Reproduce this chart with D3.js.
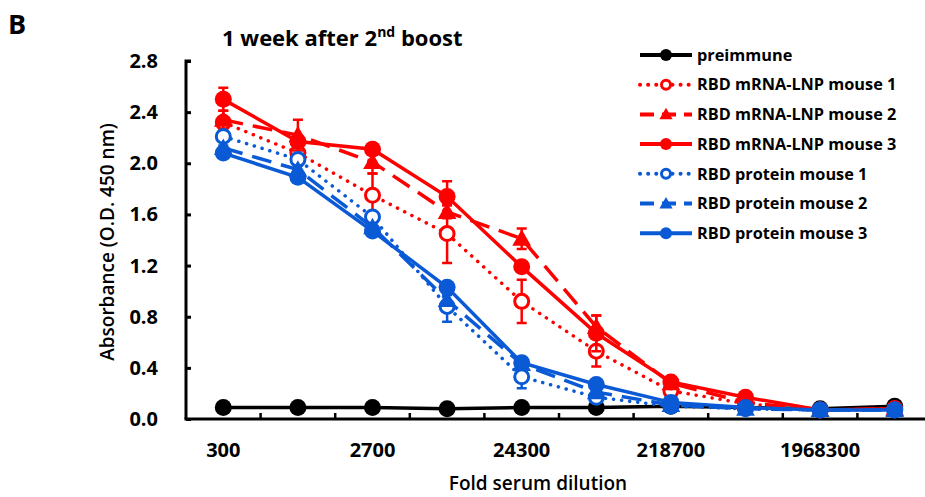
<!DOCTYPE html>
<html>
<head>
<meta charset="utf-8">
<script src="https://cdn.jsdelivr.net/npm/d3@7"></script>
<style>
  body { margin: 0; background: #fff; }
  svg text { font-family: "Open Sans", "Noto Sans", sans-serif; font-weight: 700; fill: #000; }
</style>
</head>
<body>
<script>
var dilutions = ['300', '900', '2700', '8100', '24300', '72900', '218700', '656100', '1968300', '5904900'];
var shownLabels = ['300', '2700', '24300', '218700', '1968300'];
var yTicks = [0, 0.4, 0.8, 1.2, 1.6, 2.0, 2.4, 2.8];

var preimmune = [0.09, 0.09, 0.09, 0.08, 0.09, 0.09, 0.10, 0.09, 0.08, 0.10];
var mrna1 = [2.32, 2.08, 1.75, 1.45, 0.92, 0.53, 0.22, 0.12, 0.07, 0.08];
var mrna1Err = [0.03, 0.04, 0.17, 0.23, 0.17, 0.12, 0.03, 0.02, 0.01, 0.01];
var mrna2 = [2.34, 2.22, 2.01, 1.62, 1.41, 0.72, 0.28, 0.13, 0.07, 0.08];
var mrna2Err = [0.07, 0.12, 0.09, 0.05, 0.08, 0.09, 0.04, 0.02, 0.01, 0.01];
var mrna3 = [2.50, 2.17, 2.11, 1.74, 1.19, 0.67, 0.29, 0.17, 0.07, 0.08];
var mrna3Err = [0.09, 0.02, 0.02, 0.12, 0.02, 0.14, 0.03, 0.02, 0.01, 0.01];
var prot1 = [2.21, 2.03, 1.58, 0.88, 0.33, 0.17, 0.10, 0.08, 0.07, 0.07];
var prot1Err = [0.04, 0.04, 0.03, 0.12, 0.09, 0.02, 0.01, 0.01, 0.01, 0.01];
var prot2 = [2.12, 1.95, 1.50, 0.93, 0.43, 0.21, 0.11, 0.08, 0.07, 0.07];
var prot2Err = [0.02, 0.03, 0.03, 0.04, 0.03, 0.02, 0.01, 0.01, 0.01, 0.01];
var prot3 = [2.08, 1.89, 1.47, 1.03, 0.44, 0.27, 0.13, 0.09, 0.07, 0.07];
var prot3Err = [0.02, 0.02, 0.02, 0.03, 0.02, 0.02, 0.01, 0.01, 0.01, 0.01];

var red = '#ff0000', blue = '#0a5ad6';

// style per series: dash pattern + marker kind
var series = [
  { name: 'preimmune', values: preimmune, err: null, color: '#000', dash: null, marker: 'dot' },
  { name: 'RBD mRNA-LNP mouse 1', values: mrna1, err: mrna1Err, color: red, dash: '0.1 8', marker: 'ring' },
  { name: 'RBD mRNA-LNP mouse 2', values: mrna2, err: mrna2Err, color: red, dash: '20 10', marker: 'tri' },
  { name: 'RBD mRNA-LNP mouse 3', values: mrna3, err: mrna3Err, color: red, dash: null, marker: 'dot' },
  { name: 'RBD protein mouse 1', values: prot1, err: prot1Err, color: blue, dash: '0.1 8', marker: 'ring' },
  { name: 'RBD protein mouse 2', values: prot2, err: prot2Err, color: blue, dash: '20 10', marker: 'tri' },
  { name: 'RBD protein mouse 3', values: prot3, err: prot3Err, color: blue, dash: null, marker: 'dot' }
];

var svg = d3.select('body').append('svg')
    .attr('width', 925)
    .attr('height', 497);

var x = d3.scaleBand().domain(dilutions).range([186, 932]);
var y = d3.scaleLinear().domain([0, 2.8]).range([419, 61]);
var cx = function (i) { return x(dilutions[i]) + x.bandwidth() / 2; };

// axes
var yAxis = d3.axisRight(y).tickValues(yTicks).tickSize(5).tickFormat('');
svg.append('g').attr('transform', 'translate(186,0)').call(yAxis)
    .call(function (g) {
      g.select('.domain').attr('stroke-width', 3).attr('d', 'M5,61H0V419');
      g.selectAll('.tick line').attr('stroke-width', 3);
    });

svg.append('g').selectAll('text')
    .data(yTicks)
    .join('text')
      .attr('x', 158)
      .attr('y', function (d) { return y(d); })
      .attr('dy', '0.35em')
      .attr('text-anchor', 'end')
      .style('font-size', '20px')
      .text(function (d) { return d.toFixed(1); });

var xAxis = d3.axisTop(x).tickSize(6).tickFormat('');
svg.append('g').attr('transform', 'translate(0,419)').call(xAxis)
    .call(function (g) {
      g.select('.domain').attr('stroke-width', 3).attr('d', 'M184.5,0H925');
      g.selectAll('.tick').attr('transform', function (d) { return 'translate(' + x(d) + ',0)'; });
      g.selectAll('.tick line').attr('stroke-width', 2.5);
      g.selectAll('.tick').filter(function (d) { return d === dilutions[0]; }).remove();
    });

svg.append('g').selectAll('text')
    .data(shownLabels)
    .join('text')
      .attr('x', function (d) { return x(d) + x.bandwidth() / 2; })
      .attr('y', 457)
      .attr('text-anchor', 'middle')
      .style('font-size', '20px')
      .text(function (d) { return d; });

svg.append('text')
    .attr('x', 538).attr('y', 490)
    .attr('text-anchor', 'middle')
    .style('font-size', '19px').style('font-weight', 600)
    .text('Fold serum dilution');

svg.append('text')
    .attr('transform', 'translate(114,242) rotate(-90)')
    .attr('text-anchor', 'middle')
    .style('font-size', '19px').style('font-weight', 600)
    .text('Absorbance (O.D. 450 nm)');

svg.append('text')
    .attr('x', 8).attr('y', 34)
    .style('font-size', '27px')
    .text('B');

var title = svg.append('text')
    .attr('x', 222).attr('y', 46)
    .style('font-size', '22px');
title.append('tspan').text('1 week after 2');
title.append('tspan').attr('dy', -9).style('font-size', '14px').text('nd');
title.append('tspan').attr('dy', 9).text(' boost');

var line = d3.line()
    .x(function (d, i) { return cx(i); })
    .y(function (d) { return y(d); });

function drawMarker(g, kind, color, px, py, r) {
  if (kind === 'dot') {
    g.append('circle').attr('cx', px).attr('cy', py).attr('r', r).attr('fill', color);
  } else if (kind === 'ring') {
    g.append('circle').attr('cx', px).attr('cy', py).attr('r', r - 1.5)
        .attr('fill', '#fff').attr('stroke', color).attr('stroke-width', 3);
  } else {
    var s = r * 1.1;
    g.append('path')
        .attr('d', 'M' + px + ',' + (py - s) + 'L' + (px + s) + ',' + (py + s * 0.75) + 'L' + (px - s) + ',' + (py + s * 0.75) + 'Z')
        .attr('fill', color);
  }
}

var plot = svg.append('g');
series.forEach(function (s) {
  var g = plot.append('g');
  if (s.err) {
    s.values.forEach(function (v, i) {
      var e = s.err[i], px = cx(i);
      g.append('path')
          .attr('d', 'M' + px + ',' + y(v - e) + 'V' + y(v + e) +
                     'M' + (px - 5) + ',' + y(v - e) + 'H' + (px + 5) +
                     'M' + (px - 5) + ',' + y(v + e) + 'H' + (px + 5))
          .attr('stroke', s.color).attr('stroke-width', 2.5).attr('fill', 'none');
    });
  }
  g.append('path')
      .datum(s.values)
      .attr('d', line)
      .attr('fill', 'none')
      .attr('stroke', s.color)
      .attr('stroke-width', 3.5)
      .attr('stroke-linecap', s.dash && s.dash.indexOf('0.1') === 0 ? 'round' : 'butt')
      .attr('stroke-dasharray', s.dash);
  s.values.forEach(function (v, i) {
    drawMarker(g, s.marker, s.color, cx(i), y(v), 8.5);
  });
});

// legend
var legend = svg.append('g');
series.forEach(function (s, k) {
  var ly = 55 + k * 29.7;
  var g = legend.append('g');
  g.append('line')
      .attr('x1', 640).attr('x2', 692).attr('y1', ly).attr('y2', ly)
      .attr('stroke', s.color).attr('stroke-width', 4)
      .attr('stroke-linecap', s.dash && s.dash.indexOf('0.1') === 0 ? 'round' : 'butt')
      .attr('stroke-dasharray', s.dash ? (s.dash.indexOf('0.1') === 0 ? '0.1 8' : '14 8') : null);
  drawMarker(g, s.marker, s.color, 666, ly, 6);
  g.append('text')
      .attr('x', 697).attr('y', ly)
      .attr('dy', '0.35em')
      .style('font-size', '16.3px')
      .text(s.name);
});
</script>
</body>
</html>
